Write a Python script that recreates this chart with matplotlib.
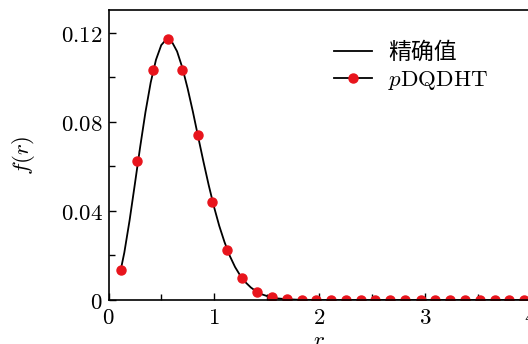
import numpy as np
import matplotlib
matplotlib.use('Agg')
from matplotlib import pyplot as plt
from matplotlib.lines import Line2D
from matplotlib.ticker import MultipleLocator, FuncFormatter

# Exact curve
r_exact = [0.116, 0.15, 0.2, 0.25, 0.3, 0.35, 0.4, 0.45, 0.5, 0.55, 0.6, 0.65,
           0.7, 0.75, 0.8, 0.85, 0.9, 0.95, 1.0, 1.05, 1.1, 1.15, 1.2, 1.25,
           1.3, 1.35, 1.4, 1.45, 1.5, 1.6, 1.7, 1.8, 2.0, 3.0, 4.0]
f_exact = [0.0135, 0.0213, 0.0358, 0.0521, 0.0687, 0.0843, 0.0977, 0.1079,
           0.1145, 0.1172, 0.1161, 0.1117, 0.1044, 0.0951, 0.0846, 0.0733,
           0.0622, 0.0516, 0.0419, 0.0333, 0.0260, 0.0198, 0.0148, 0.0109,
           0.0079, 0.0056, 0.0039, 0.0026, 0.0018, 0.0007, 0.0003, 0.0001,
           0.0, 0.0, 0.0]

# pDQDHT sample points
r_pts = [0.116, 0.273, 0.419, 0.567, 0.700, 0.845, 0.984, 1.126, 1.268, 1.408,
         1.55, 1.69, 1.83, 1.97, 2.11, 2.25, 2.39, 2.53, 2.67, 2.81, 2.96,
         3.10, 3.24, 3.38, 3.52, 3.66, 3.80, 3.94]
f_pts = [0.0135, 0.0625, 0.1034, 0.1173, 0.1034, 0.0740, 0.0442, 0.0225,
         0.0098, 0.0036, 0.0012, 0.0004, 0.0001, 0.0, 0.0, 0.0, 0.0, 0.0,
         0.0, 0.0, 0.0, 0.0, 0.0, 0.0, 0.0, 0.0, 0.0, 0.0]

red = '#e8141c'
font = 16.5
plt.rcParams['mathtext.fontset'] = 'cm'

fig = plt.figure(figsize=(5.28, 3.44), dpi=100)
ax = fig.add_axes([0.2055, 0.128, 0.799, 0.843])

ax.plot(r_exact, f_exact, color='k', lw=1.3)
ax.plot(r_pts, f_pts, ls='none', marker='o', ms=6.5, mfc=red, mec=red)

ax.set_xlim(0, 4)
ax.set_ylim(0, 0.1303)
ax.xaxis.set_major_locator(MultipleLocator(1))
ax.xaxis.set_minor_locator(MultipleLocator(0.5))
ax.yaxis.set_major_locator(MultipleLocator(0.04))
ax.yaxis.set_minor_locator(MultipleLocator(0.02))
ax.xaxis.set_major_formatter(FuncFormatter(lambda v, p: f'${v:g}$'))
ax.yaxis.set_major_formatter(FuncFormatter(lambda v, p: '$0$' if v == 0 else f'${v:.2f}$'))
ax.tick_params(which='both', direction='in', labelsize=font, top=False, right=False)
ax.tick_params(which='major', length=5, width=1, pad=4)
ax.tick_params(which='minor', length=4, width=1)
for s in ax.spines.values():
    s.set_linewidth(1.2)

ax.set_xlabel(r'$r$', fontsize=font, labelpad=0)
ax.set_ylabel(r'$f(r)$', fontsize=font, labelpad=17)

handles = [Line2D([], [], color='k', lw=1.3),
           Line2D([], [], color='k', lw=1.3, marker='o', ms=6.5, mfc=red, mec=red)]
leg = ax.legend(handles, ['精确值', r'$p\mathrm{DQDHT}$'], loc='upper left',
                bbox_to_anchor=(0.486, 0.965), frameon=False,
                handlelength=1.66, handletextpad=0.7, labelspacing=0.2,
                prop={'family': ['Noto Sans CJK SC', 'DejaVu Sans'], 'size': font})

fig.savefig('out.png', dpi=100)
